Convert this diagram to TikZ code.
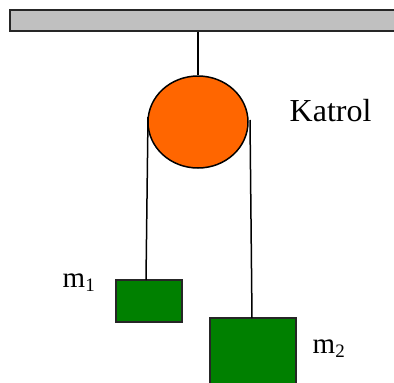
\documentclass[tikz,border=0pt]{standalone}
\usepackage{fontspec}
\setmainfont{Liberation Serif}
\usetikzlibrary{positioning, shapes.geometric}
\definecolor{bargray}{HTML}{C0C0C0}
\definecolor{pulleyorange}{HTML}{FF6600}
\definecolor{massgreen}{HTML}{008000}
\newcommand{\masssub}[1]{\raisebox{-4pt}{\fontsize{19}{20}\selectfont #1}}

\begin{document}
\begin{tikzpicture}[
    x=1pt, y=-1pt,
    % Styles
    barnode/.style={
        rectangle,
        draw=black!85,
        fill=bargray,
        line width=1.5pt,
        minimum width=400pt,
        minimum height=21pt,
        inner sep=0pt
    },
    pulleynode/.style={
        ellipse,
        draw=black,
        fill=pulleyorange,
        line width=1.5pt,
        minimum width=100pt,
        minimum height=92pt,
        inner sep=0pt
    },
    massnode/.style={
        rectangle,
        draw=black!85,
        fill=massgreen,
        line width=1.5pt,
        inner sep=0pt
    },
    labelnode/.style={
        font=\fontsize{29}{32}\selectfont,
        inner sep=0pt,
        anchor=base west
    },
    rope/.style={
        draw=black,
        line width=1.5pt
    }
]
    \useasboundingbox (0,0) rectangle (394,383);

    % ================= SUPPORT AND PULLEY =================
    \node[barnode] (bar) at (210,20.5) {};
    \node[pulleynode] (pulley) at (198,122) {};

    % ================= MASSES =================
    \node[massnode, minimum width=66pt, minimum height=42pt] (massone) at (149,301) {};
    \node[massnode, minimum width=86pt, minimum height=70pt] (masstwo) at (253,353) {};

    % ================= LABELS =================
    \node[labelnode, font=\fontsize{32}{34}\selectfont] (katrol) at (289.5,121) {Katrol};
    \node[labelnode] (labelone) at (62.5,287) {m\masssub{1}};
    \node[labelnode] (labeltwo) at (312.5,353) {m\masssub{2}};

    % ================= ROPE ENDS =================
    \coordinate (leftstart) at (148,117);
    \coordinate (leftend) at (146,280);
    \coordinate (rightstart) at (250,120);
    \coordinate (rightend) at (252,318);

    % ================= CONNECTIONS =================
    \draw[rope] (bar.south -| pulley.north) -- (pulley.north);
    \draw[rope] (leftstart) -- (leftend);
    \draw[rope] (rightstart) -- (rightend);
\end{tikzpicture}
\end{document}
